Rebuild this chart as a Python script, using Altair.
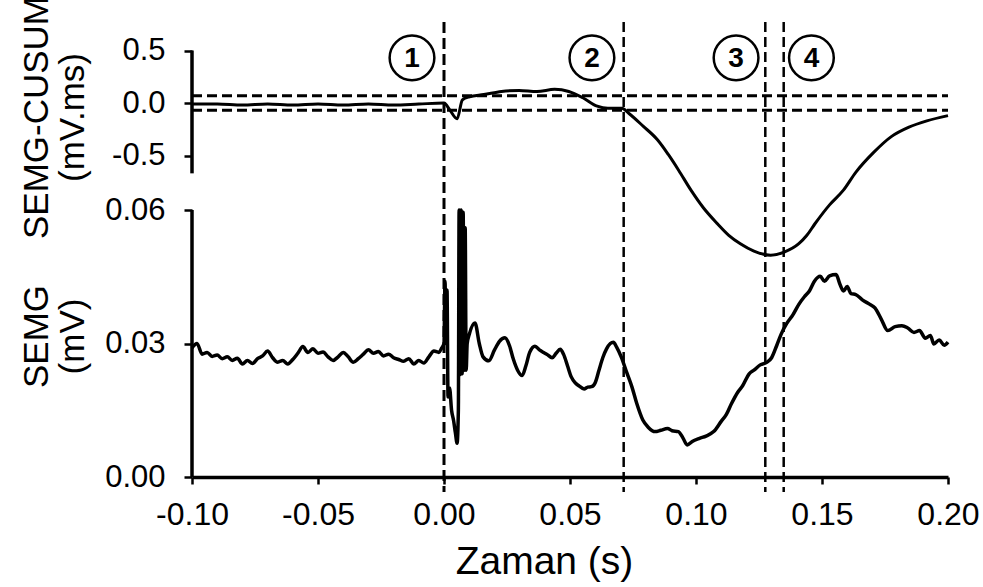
import altair as alt
import pandas as pd

FONT = "Liberation Sans"

# ---------------- data ----------------
cusum_t = [-0.100, -0.090, -0.080, -0.070, -0.060, -0.050, -0.040, -0.030, -0.020, -0.010,
           0.000, 0.0024, 0.0052, 0.0073, 0.0101, 0.0158, 0.0228, 0.0298, 0.0369, 0.0439,
           0.0495, 0.0551, 0.0608, 0.0650, 0.0706, 0.0734, 0.0790, 0.0847, 0.0890, 0.0931,
           0.0980, 0.1030, 0.1085, 0.1130, 0.1176, 0.1230, 0.1296, 0.1350, 0.1408, 0.1440,
           0.1472, 0.1530, 0.1585, 0.1634, 0.1705, 0.1775, 0.1845, 0.1916, 0.2000]
cusum_v = [-0.01, -0.01, -0.02, -0.01, -0.02, -0.01, -0.02, -0.01, -0.02, -0.01,
           0.00, -0.07, -0.15, 0.03, 0.06, 0.08, 0.11, 0.12, 0.11, 0.13,
           0.11, 0.05, -0.03, -0.05, -0.05, -0.10, -0.22, -0.35, -0.49, -0.64,
           -0.83, -1.00, -1.15, -1.26, -1.34, -1.41, -1.45, -1.42, -1.34, -1.26,
           -1.15, -0.97, -0.83, -0.66, -0.47, -0.32, -0.23, -0.17, -0.12]

semg_t = [-0.100, -0.098, -0.096, -0.094, -0.092, -0.090, -0.088, -0.086, -0.084, -0.082,
          -0.080, -0.078, -0.076, -0.074, -0.072, -0.070, -0.068, -0.066, -0.064, -0.062,
          -0.060, -0.058, -0.056, -0.054, -0.052, -0.050, -0.048, -0.046, -0.044, -0.042,
          -0.040, -0.038, -0.036, -0.034, -0.032, -0.030, -0.028, -0.026, -0.024, -0.022,
          -0.020, -0.018, -0.016, -0.014, -0.012, -0.010, -0.008, -0.006, -0.004, -0.002,
          -0.0010, 0.0000, 0.0004, 0.0008, 0.0012, 0.0016, 0.0022, 0.0030, 0.0038, 0.0045,
          0.0052, 0.0057, 0.0060, 0.0064, 0.0068, 0.0072, 0.0076, 0.0080, 0.0084, 0.0088,
          0.0092, 0.0100, 0.0123, 0.0140, 0.0155, 0.0178, 0.0200, 0.0220, 0.0242, 0.0260,
          0.0275, 0.0292, 0.0310, 0.0325, 0.0340, 0.0361, 0.0380, 0.0395, 0.0410, 0.0429,
          0.0445, 0.0461, 0.0475, 0.0490, 0.0505, 0.0520, 0.0535, 0.0556, 0.0570, 0.0585,
          0.0600, 0.0615, 0.0630, 0.0645, 0.0660, 0.0672, 0.0685, 0.0704, 0.0725, 0.0746,
          0.0765, 0.0789, 0.0810, 0.0838, 0.0860, 0.0887, 0.0905, 0.0930, 0.0948, 0.0965,
          0.0985, 0.1014, 0.1040, 0.1070, 0.1100, 0.1120, 0.1141, 0.1165, 0.1185, 0.1211,
          0.1230, 0.1255, 0.1282, 0.1300, 0.1320, 0.1338, 0.1360, 0.1385, 0.1408, 0.1430,
          0.1450, 0.1470, 0.1493, 0.1510, 0.1530, 0.1556, 0.1570, 0.1585, 0.1600, 0.1615,
          0.1634, 0.1660, 0.1690, 0.1710, 0.1735, 0.1761, 0.1790, 0.1817, 0.1840, 0.1865,
          0.1887, 0.1910, 0.1930, 0.1944, 0.1965, 0.1985, 0.2000]
semg_v = [0.0290, 0.0300, 0.0276, 0.0280, 0.0271, 0.0274, 0.0266, 0.0270, 0.0262, 0.0267,
          0.0254, 0.0262, 0.0255, 0.0266, 0.0272, 0.0283, 0.0268, 0.0258, 0.0262, 0.0254,
          0.0264, 0.0278, 0.0293, 0.0280, 0.0288, 0.0278, 0.0281, 0.0270, 0.0262, 0.0270,
          0.0280, 0.0270, 0.0258, 0.0266, 0.0276, 0.0286, 0.0278, 0.0282, 0.0272, 0.0276,
          0.0268, 0.0264, 0.0260, 0.0266, 0.0254, 0.0262, 0.0256, 0.0270, 0.0283, 0.0280,
          0.0289, 0.0300, 0.0440, 0.0300, 0.0420, 0.0180, 0.0200, 0.0150, 0.0127, 0.0100,
          0.0076, 0.0150, 0.0600, 0.0230, 0.0600, 0.0232, 0.0595, 0.0240, 0.0560, 0.0240,
          0.0300, 0.0320, 0.0346, 0.0300, 0.0270, 0.0261, 0.0285, 0.0305, 0.0313, 0.0295,
          0.0265, 0.0240, 0.0228, 0.0250, 0.0280, 0.0294, 0.0285, 0.0280, 0.0275, 0.0268,
          0.0278, 0.0287, 0.0275, 0.0250, 0.0225, 0.0212, 0.0205, 0.0198, 0.0202, 0.0203,
          0.0212, 0.0240, 0.0268, 0.0288, 0.0300, 0.0303, 0.0292, 0.0269, 0.0235, 0.0202,
          0.0165, 0.0128, 0.0112, 0.0102, 0.0105, 0.0109, 0.0104, 0.0102, 0.0088, 0.0072,
          0.0080, 0.0087, 0.0092, 0.0102, 0.0125, 0.0140, 0.0165, 0.0190, 0.0205, 0.0232,
          0.0240, 0.0252, 0.0258, 0.0268, 0.0295, 0.0321, 0.0345, 0.0365, 0.0388, 0.0405,
          0.0418, 0.0440, 0.0451, 0.0440, 0.0452, 0.0455, 0.0435, 0.0418, 0.0428, 0.0412,
          0.0410, 0.0398, 0.0388, 0.0380, 0.0355, 0.0329, 0.0338, 0.0340, 0.0335, 0.0325,
          0.0329, 0.0312, 0.0318, 0.0299, 0.0308, 0.0296, 0.0303]

event_major_t = [0.0]
event_minor_t = [0.0713, 0.1275, 0.1348]
marker_t = [-0.0127, 0.0587, 0.1159, 0.1458]
marker_txt = ["1", "2", "3", "4"]
marker_level = 0.43
threshold_v = [0.07, -0.07]
x_ticks = [-0.10, -0.05, 0.0, 0.05, 0.10, 0.15, 0.20]
cusum_ticks = [-0.5, 0.0, 0.5]
semg_ticks = [0.0, 0.03, 0.06]
cusum_axis_span = [-0.67, 0.5]
semg_axis_span = [0.0, 0.06]
x_range = [-0.1, 0.2]

# ---------------- tables ----------------
cusum_df = pd.DataFrame({"t": cusum_t, "v": cusum_v})
semg_df = pd.DataFrame({"t": semg_t, "v": semg_v})
thr_df = pd.DataFrame({"x0": [x_range[0]] * len(threshold_v), "x1": [x_range[1]] * len(threshold_v), "v": threshold_v})
marker_df = pd.DataFrame({"t": marker_t, "v": [marker_level] * len(marker_t), "txt": marker_txt})
ev_major_df = pd.DataFrame({"t": event_major_t})
ev_minor_df = pd.DataFrame({"t": event_minor_t})
cusum_ax_df = pd.DataFrame({"t": [x_range[0]], "lo": [cusum_axis_span[0]], "hi": [cusum_axis_span[1]]})
semg_ax_df = pd.DataFrame({"t": [x_range[0]], "lo": [semg_axis_span[0]], "hi": [semg_axis_span[1]]})

# ---------------- scales & axes ----------------
x_scale = alt.Scale(domain=x_range, nice=False, zero=False)
cusum_scale = alt.Scale(domain=[-3.5619, 0.7905], nice=False, zero=False)
semg_scale = alt.Scale(domain=[0.0, 0.1027], nice=False, zero=False)

x_axis = alt.Axis(
    values=x_ticks,
    labelExpr="datum.value < -1e-9 ? '-' + format(-datum.value, '.2f') : format(abs(datum.value), '.2f')",
    title="Zaman (s)", titleFont=FONT, titleFontSize=39, titleFontWeight="normal", titleColor="black",
    titleX=352, titleY=96, titleAlign="center", titleBaseline="alphabetic",
    labelFont=FONT, labelFontSize=32, labelColor="black", labelPadding=15, labelFlush=False,
    labelOverlap=False, tickSize=7, tickWidth=2.5, tickColor="black",
    domainColor="black", domainWidth=3.5, grid=False,
)


def y_axis(values, fmt, title, title_y):
    return alt.Axis(
        values=values, orient="left",
        labelExpr="datum.value < -1e-9 ? '-' + format(-datum.value, '%s') : format(abs(datum.value), '%s')" % (fmt, fmt),
        domain=False, grid=False,
        title=title, titleFont=FONT, titleFontSize=35, titleFontWeight="normal", titleColor="black",
        titleAngle=270, titleX=-145, titleY=title_y, titleAlign="center", titleBaseline="alphabetic",
        titleLineHeight=36,
        labelFont=FONT, labelFontSize=31, labelColor="black", labelPadding=19, labelOverlap=False,
        labelFlush=False, tickSize=8, tickWidth=2.5, tickColor="black",
    )


cusum_axis = y_axis(cusum_ticks, ".1f", ["SEMG-CUSUM", "(mV.ms)"], 97)
semg_axis = y_axis(semg_ticks, ".2f", ["SEMG", "(mV)"], 316)

X = lambda f: alt.X(f, type="quantitative", scale=x_scale, axis=x_axis)

# ---------------- CUSUM group ----------------
c_axisline = alt.Chart(cusum_ax_df).mark_rule(color="black", strokeWidth=3.5).encode(
    x=X("t"), y=alt.Y("lo:Q", scale=cusum_scale, axis=cusum_axis), y2="hi:Q")
c_thr = alt.Chart(thr_df).mark_rule(color="black", strokeWidth=3, strokeDash=[10, 5]).encode(
    x=X("x0"), x2="x1:Q", y=alt.Y("v:Q", scale=cusum_scale, axis=cusum_axis))
c_line = alt.Chart(cusum_df).mark_line(color="black", strokeWidth=3, strokeJoin="round",
                                       interpolate="monotone").encode(
    x=X("t"), y=alt.Y("v:Q", scale=cusum_scale, axis=cusum_axis))
c_circ = alt.Chart(marker_df).mark_point(shape="circle", size=2000, filled=False, color="black",
                                         strokeWidth=2.5, opacity=1).encode(
    x=X("t"), y=alt.Y("v:Q", scale=cusum_scale, axis=cusum_axis))
c_txt = alt.Chart(marker_df).mark_text(font=FONT, fontSize=28, fontWeight="bold", color="black",
                                       align="center", baseline="middle", dy=1).encode(
    x=X("t"), y=alt.Y("v:Q", scale=cusum_scale, axis=cusum_axis), text="txt:N")
cusum_group = alt.layer(c_axisline, c_thr, c_line, c_circ, c_txt)

# ---------------- SEMG group ----------------
s_axisline = alt.Chart(semg_ax_df).mark_rule(color="black", strokeWidth=3.5).encode(
    x=X("t"), y=alt.Y("lo:Q", scale=semg_scale, axis=semg_axis), y2="hi:Q")
s_ev1 = alt.Chart(ev_major_df).mark_rule(color="black", strokeWidth=3, strokeDash=[11, 5]).encode(
    x=X("t"), y=alt.value(2), y2=alt.value(472))
s_ev2 = alt.Chart(ev_minor_df).mark_rule(color="black", strokeWidth=2.5, strokeDash=[10, 5]).encode(
    x=X("t"), y=alt.value(2), y2=alt.value(472))
s_line = alt.Chart(semg_df).mark_line(color="black", strokeWidth=3.5, strokeJoin="round",
                                      interpolate="monotone").encode(
    x=X("t"), y=alt.Y("v:Q", scale=semg_scale, axis=semg_axis))
semg_group = alt.layer(s_axisline, s_ev1, s_ev2, s_line)

chart = alt.layer(cusum_group, semg_group).resolve_scale(y="independent").properties(
    width=756, height=457,
    autosize=alt.AutoSizeParams(type="none"),
    padding={"left": 192, "top": 20, "right": 35, "bottom": 110},
    background="white",
).configure_view(stroke=None)

chart.save("out.html", embed_options={"renderer": "svg", "actions": False})
